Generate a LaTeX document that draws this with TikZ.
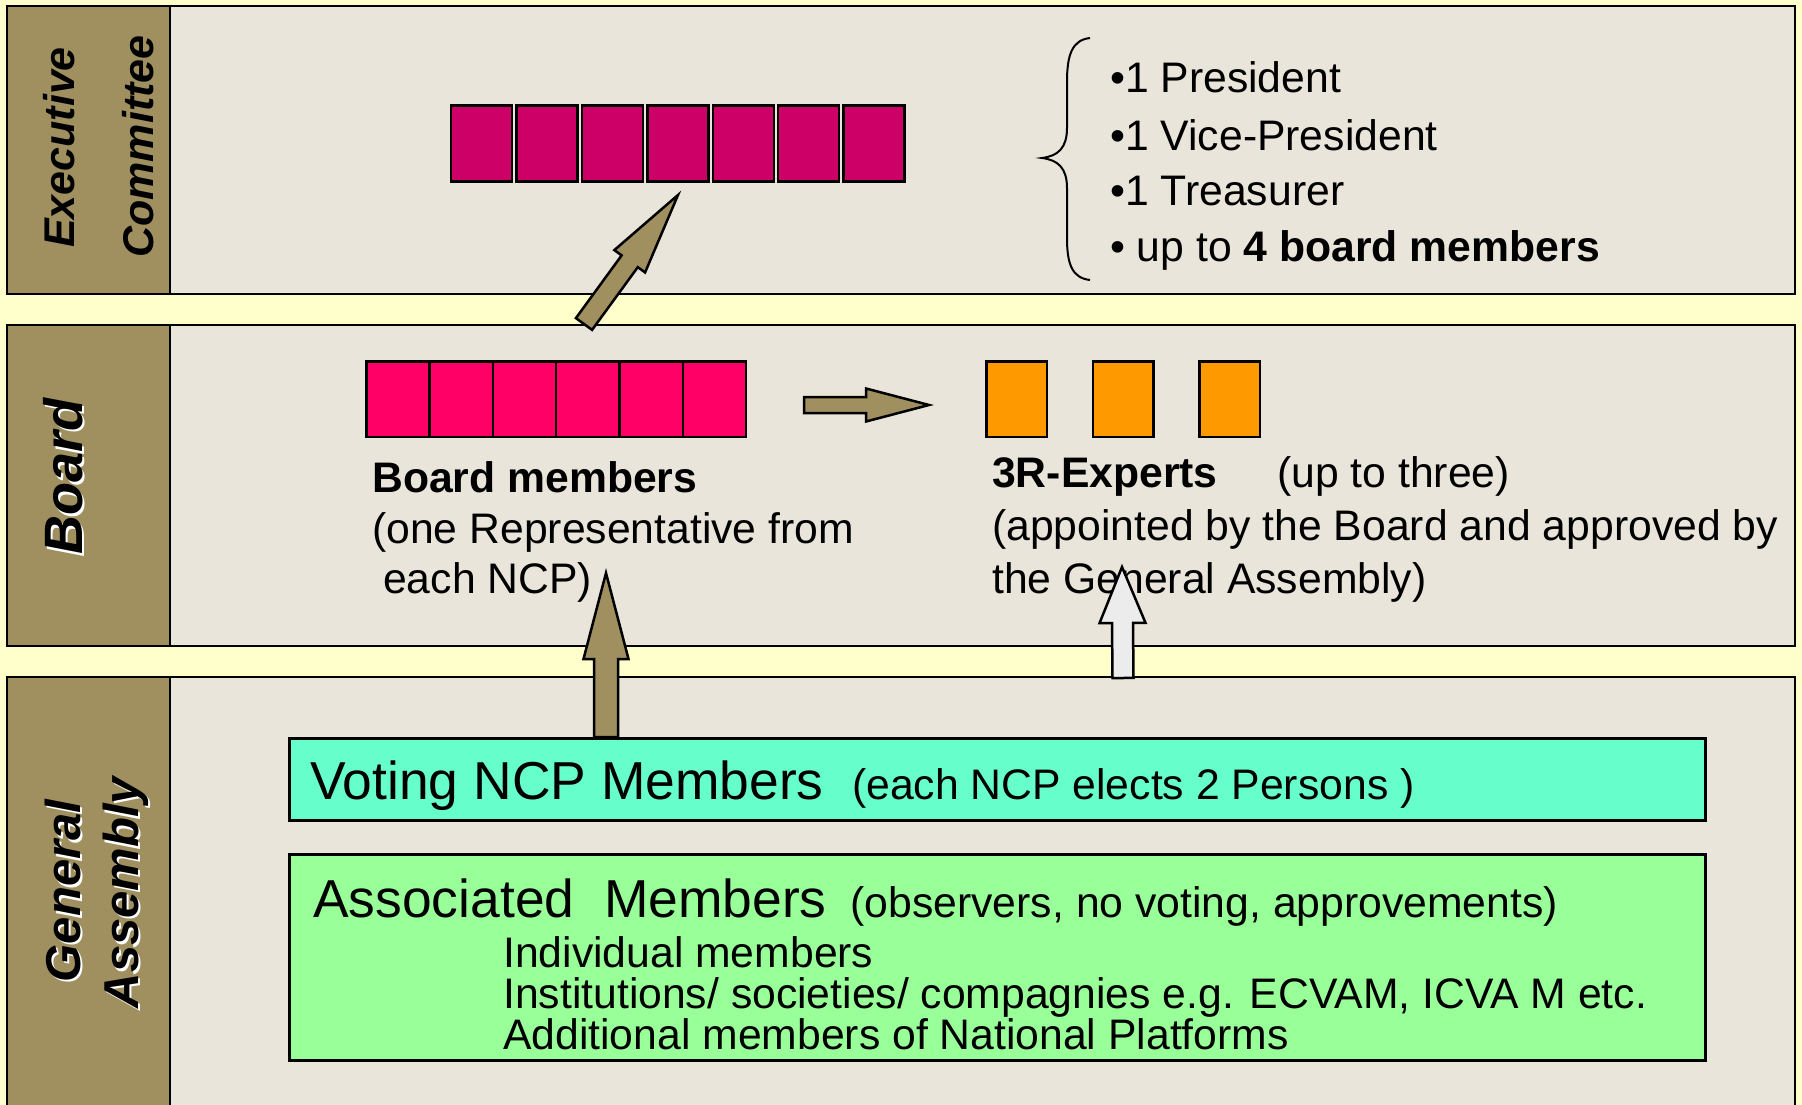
\documentclass[tikz,border=0pt]{standalone}
\usepackage{fontspec}
\setmainfont{Liberation Sans}
\usetikzlibrary{calc}

\definecolor{bgyellow}{HTML}{FFFFCC}
\definecolor{panel}{HTML}{E9E5DA}
\definecolor{khaki}{HTML}{A09060}
\definecolor{execred}{HTML}{CC0066}
\definecolor{boardpink}{HTML}{FF0066}
\definecolor{expert}{HTML}{FF9900}
\definecolor{voting}{HTML}{66FFCC}
\definecolor{assoc}{HTML}{99FF99}
\definecolor{pale}{HTML}{ECECEC}

% block arrow: fill, tail, tip, half shaft, half head, head length
\newcommand{\blockarrow}[6]{%
  \coordinate (#2-h) at ($(#3)!#6!(#2)$);
  \draw[line width=2.5pt, fill=#1, line join=miter]
    ($(#2)!#4!90:(#3)$) -- ($(#2-h)!#4!90:(#3)$) -- ($(#2-h)!#5!90:(#3)$) -- (#3)
    -- ($(#2-h)!#5!-90:(#3)$) -- ($(#2-h)!#4!-90:(#3)$) -- ($(#2)!#4!-90:(#3)$) -- cycle;
}

\tikzset{
  txt/.style={anchor=base west, inner sep=0pt, font=\fontsize{42.7}{50}\selectfont},
  lbl/.style={rotate=90, anchor=base, inner sep=0pt, font=\bfseries\itshape\fontsize{#1}{#1}\selectfont},
  seat/.style={draw, line width=2.5pt, inner sep=0pt, minimum width=61pt, minimum height=76pt},
  band/.style={draw, line width=3pt, inner sep=0pt, minimum width=1416pt}
}

\begin{document}
\begin{tikzpicture}[x=1pt, y=-1pt]
\useasboundingbox (0,0) rectangle (1802,1105);
\clip (0,0) rectangle (1802,1105);
\fill[bgyellow] (0,0) rectangle (1802,1105);

% the three levels
\foreach \ya/\yb in {6/294, 325/646, 677/1130} {
  \fill[panel] (7,\ya) rectangle (1795,\yb);
  \fill[khaki] (7,\ya) rectangle (170,\yb);
  \draw[line width=1.5pt] (170,\ya) -- (170,\yb);
  \draw[line width=2.5pt] (7,\ya) rectangle (1795,\yb);
}

% level names
\node[lbl=43] (exec1) at (74,147.5) {Executive};
\node[lbl=43] (exec2) at (153,146.5) {Committee};
\node[lbl=54, white] at (84.5,479) {Board};
\node[lbl=54] (boardlbl) at (82,476.5) {Board};
\node[lbl=49, white] at (82.5,893.5) {General};
\node[lbl=49] (ga1) at (80,891) {General};
\node[lbl=49, white] at (140.5,895) {Assembly};
\node[lbl=49] (ga2) at (138,892.5) {Assembly};

% executive committee
\foreach \i in {0,...,6}
  \node[seat, fill=execred] (ec\i) at (481.7+65.4*\i, 143.3) {};
\draw[line width=2pt] (1090,38) .. controls (1072,40) and (1067,55) .. (1067,82)
  -- (1067,128) .. controls (1067,148) and (1058,156) .. (1042,158)
  .. controls (1058,160) and (1067,168) .. (1067,188)
  -- (1067,238) .. controls (1067,264) and (1072,278) .. (1090,280);
\node[txt] (pres) at (1110,93) {•1 President};
\node[txt] (vice) at (1110,150) {•1 Vice-President};
\node[txt] (treas) at (1110,205) {•1 Treasurer};
\node[txt] (upto) at (1110,261) {• up to \textbf{4 board members}};

% board
\foreach \i in {0,...,5}
  \node[seat, fill=boardpink, minimum width=63.3pt, minimum height=75.5pt] (bm\i) at (397.9+63.3*\i, 399) {};
\foreach \i/\x in {1/1016.5, 2/1123, 3/1229.5}
  \node[seat, fill=expert, minimum width=60.5pt, minimum height=75.5pt] (xp\i) at (\x, 399) {};
\node[txt] (bmtitle) at (372,492) {\bfseries Board members};
\node[txt] (bmrep) at (372,543) {(one Representative from};
\node[txt] (bmncp) at (383,593) {each NCP)};
\node[txt] (xptitle) at (992,487) {\bfseries 3R-Experts};
\node[txt] (xpnum) at (1277,487) {(up to three)};
\node[txt] (xpapp) at (992,540) {(appointed by the Board and approved by};
\node[txt] (xpga) at (992,593) {the General Assembly)};

% general assembly
\node[band, fill=voting, minimum height=82pt] (vote) at (997.5,779.5) {};
\node[band, fill=assoc, minimum height=206pt] (assocbox) at (997.5,957.5) {};
\node[txt] (votetxt) at (310,799) {{\fontsize{53.4}{60}\selectfont Voting NCP Members}\hspace{28.5pt}(each NCP elects 2 Persons )};
\node[txt] (assoctxt) at (313,917) {{\fontsize{53.4}{60}\selectfont Associated\ \ Members}\hspace{24pt}(observers, no voting, approvements)};
\node[txt] (indiv) at (503,967) {Individual members};
\node[txt] (inst) at (503,1008) {Institutions/ societies/ compagnies e.g. ECVAM, ICVA M etc.};
\node[txt] (addl) at (503,1049) {Additional members of National Platforms};

% arrows
\coordinate (ec-tail) at (584,324);
\coordinate (ec-tip) at (678,195);
\blockarrow{khaki}{ec-tail}{ec-tip}{10pt}{19pt}{82pt}
\coordinate (bm-out) at (804,405);
\coordinate (xp-in) at (929,405);
\blockarrow{khaki}{bm-out}{xp-in}{8pt}{16.5pt}{63pt}
\coordinate (vote-out) at (606,737);
\coordinate (bm-in) at (606,573);
\blockarrow{khaki}{vote-out}{bm-in}{12pt}{22.5pt}{86pt}
\coordinate (ga-out) at (1123,678);
\coordinate (xp-up) at (1122,567);
\blockarrow{pale}{ga-out}{xp-up}{10.5pt}{23pt}{56pt}
\end{tikzpicture}
\end{document}
